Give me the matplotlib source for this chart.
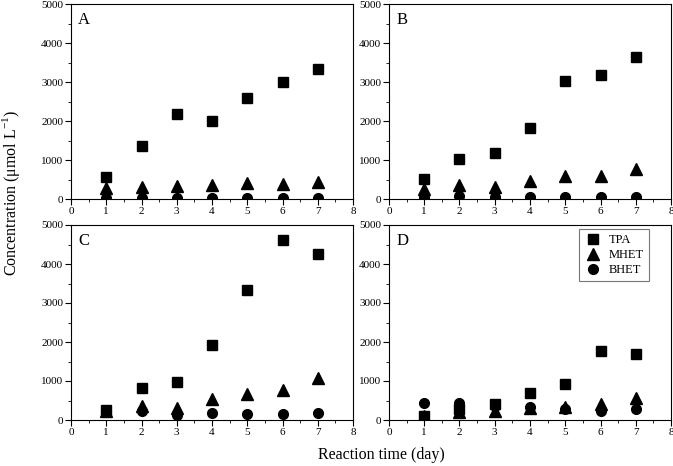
import matplotlib
matplotlib.use('Agg')
import matplotlib.pyplot as plt
from matplotlib.ticker import MultipleLocator

plt.rcParams['font.family'] = ['Liberation Serif', 'DejaVu Serif']
plt.rcParams['mathtext.fontset'] = 'custom'
plt.rcParams['mathtext.rm'] = 'Liberation Serif'

days = [1, 2, 3, 4, 5, 6, 7]
panels = ['A', 'B', 'C', 'D']

tpa = {
    'A': [560, 1370, 2190, 2010, 2600, 3010, 3330],
    'B': [520, 1020, 1190, 1830, 3020, 3180, 3650],
    'C': [260, 830, 980, 1920, 3340, 4610, 4250],
    'D': [90, 280, 420, 700, 930, 1780, 1690],
}
mhet = {
    'A': [290, 300, 340, 360, 420, 380, 430],
    'B': [260, 350, 310, 450, 600, 590, 780],
    'C': [230, 360, 310, 530, 670, 760, 1080],
    'D': [100, 200, 230, 300, 330, 420, 570],
}
bhet = {
    'A': [30, 30, 30, 30, 30, 30, 30],
    'B': [60, 70, 60, 60, 60, 50, 50],
    'C': [230, 220, 140, 170, 160, 150, 170],
    'D': [430, 440, 350, 330, 290, 240, 280],
}

fig = plt.figure(figsize=(6.73, 4.66), dpi=100)
W, H = 673, 466
# panel boxes in pixels (left, top, right, bottom)
boxes = {
    'A': (71, 4, 353, 199),
    'B': (389, 4, 671, 199),
    'C': (71, 225, 353, 420),
    'D': (389, 225, 671, 420),
}

for p in panels:
    x0, y0, x1, y1 = boxes[p]
    ax = fig.add_axes([x0 / W, 1 - y1 / H, (x1 - x0) / W, (y1 - y0) / H])
    ax.plot(days, tpa[p], 's', color='black', ms=7, label='TPA')
    ax.plot(days, mhet[p], '^', color='black', ms=8, label='MHET')
    ax.plot(days, bhet[p], 'o', color='black', ms=7, label='BHET')
    ax.set_xlim(0, 8)
    ax.set_ylim(0, 5000)
    ax.xaxis.set_major_locator(MultipleLocator(1))
    ax.xaxis.set_minor_locator(MultipleLocator(0.5))
    ax.yaxis.set_major_locator(MultipleLocator(1000))
    ax.yaxis.set_minor_locator(MultipleLocator(500))
    ax.tick_params(which='both', direction='out', top=False, right=False,
                   labelsize=8, pad=1.5)
    ax.tick_params(which='major', length=4)
    ax.tick_params(which='minor', length=2)
    ax.text(0.025, 0.96, p, transform=ax.transAxes, fontsize=12,
            va='top', ha='left')
    if p == 'D':
        leg = ax.legend(loc='upper right', bbox_to_anchor=(0.922, 0.979),
                        borderaxespad=0, fontsize=9, frameon=True,
                        fancybox=False, edgecolor='#555555', handletextpad=0.5,
                        borderpad=0.4, labelspacing=0.25, handlelength=1.5)
        leg.get_frame().set_linewidth(0.8)

fig.text(11 / W, 1 - 193 / H, 'Concentration (μmol L$^{-1}$)', rotation=90,
         ha='center', va='center', fontsize=11.5)
fig.text(381 / W, 1 - 455 / H, 'Reaction time (day)', ha='center',
         va='center', fontsize=11.5)

fig.savefig('out.png', dpi=100)
